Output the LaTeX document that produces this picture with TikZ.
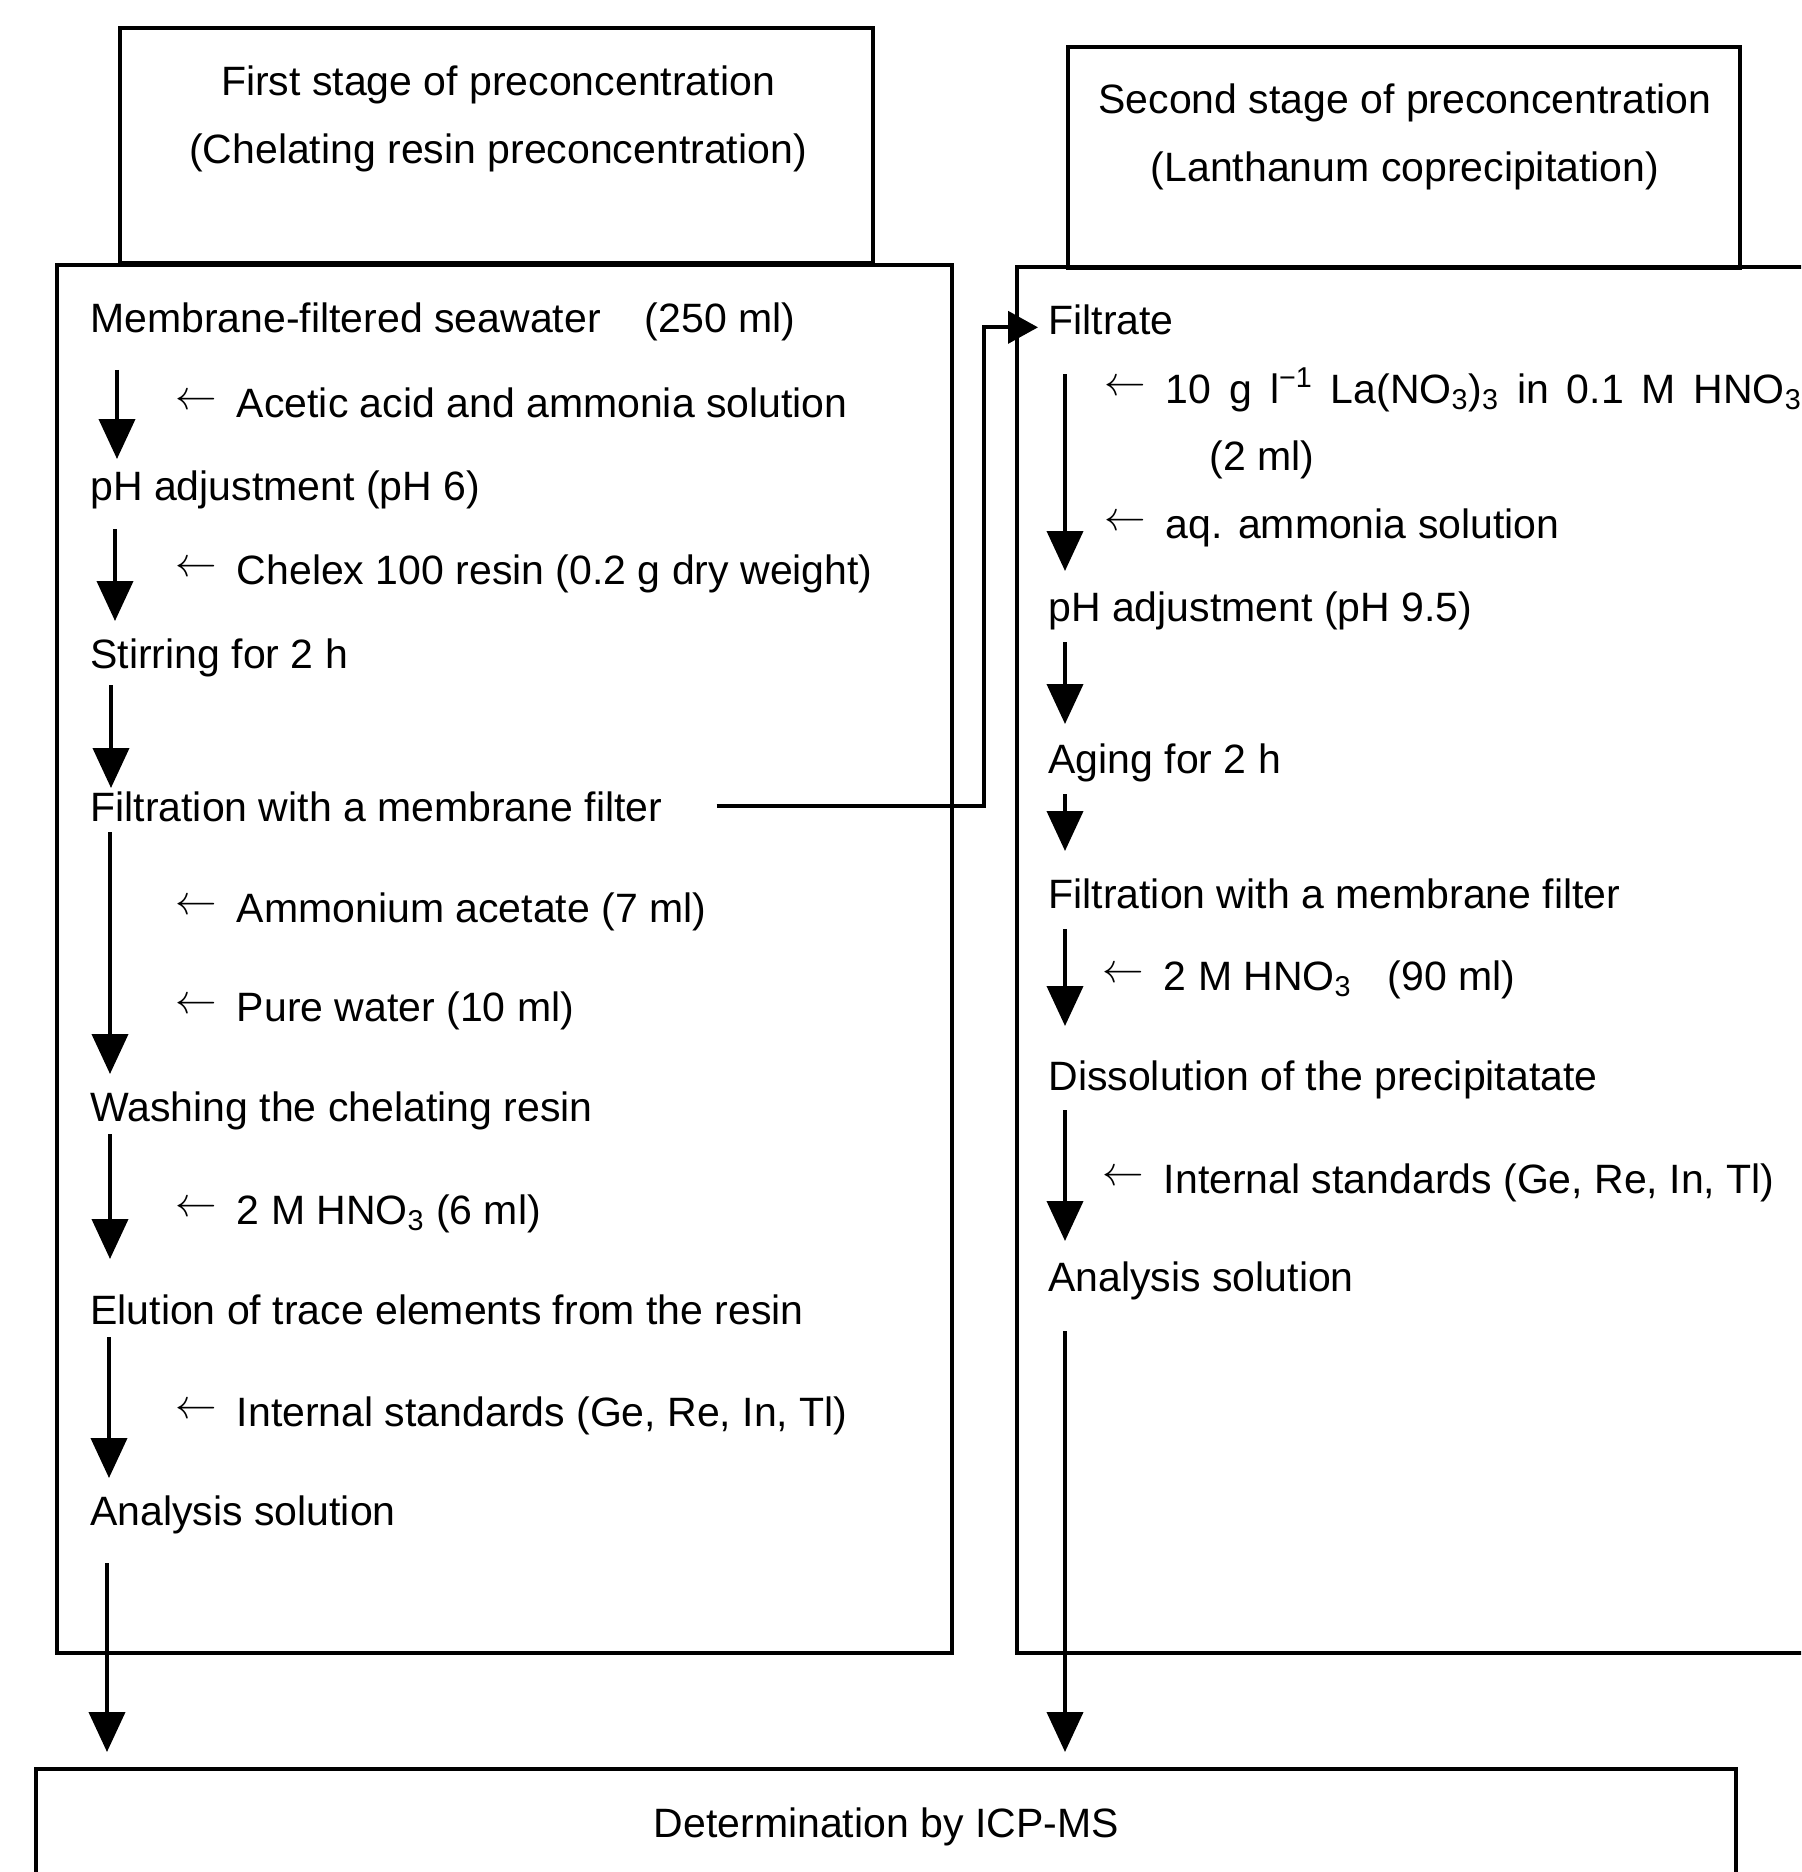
\documentclass[tikz,border=0pt]{standalone}
\usepackage{fontspec}
\setmainfont{Liberation Sans}
\usetikzlibrary{arrows.meta,calc}
\newcommand{\fs}{\fontsize{20.5pt}{34pt}\selectfont}
\newcommand{\sarr}{\raisebox{3.6pt}{\fontsize{19.5pt}{19.5pt}\selectfont$\leftarrow$}\hspace{10pt}}
\begin{document}
\begin{tikzpicture}[x=0.5pt,y=-0.5pt,
  txt/.style={anchor=base west, inner sep=0pt, font=\fs},
  hdr/.style={align=center, inner sep=0pt, font=\fs},
  box/.style={line width=2.2pt},
  flow/.style={line width=2pt, -{Triangle[width=18pt,length=20pt]}},
  conn/.style={line width=2pt, -{Triangle[width=16pt,length=15pt]}}]
\useasboundingbox (0,0) rectangle (1801,1872);
\clip (0,0) rectangle (1801,1872);
\fill[white] (0,0) rectangle (1801,1872);

% header boxes
\node[box, draw, minimum width=376.5pt, minimum height=117.5pt, inner sep=0pt] (hb1) at (496.5,145.5) {};
\node[box, draw, minimum width=336pt, minimum height=110.5pt, inner sep=0pt] (hb2) at (1404,157.5) {};
\node[hdr] (h1) at (498,119) {First stage of preconcentration\\(Chelating resin preconcentration)};
\node[hdr] (h2) at (1405,137) {Second stage of preconcentration\\(Lanthanum coprecipitation)};

% main boxes
\draw[box] (57,265) rectangle (952,1653);
\draw[box] (1840,267) -- (1017,267) -- (1017,1653) -- (1840,1653);

% bottom box
\node[box, draw, minimum width=850pt, minimum height=58pt, anchor=north west, font=\fs] (icp) at (34,1767) {Determination by ICP-MS};

% left column
\node[txt] (L1) at (90,333) {Membrane-filtered seawater\hspace{22pt}(250 ml)};
\node[txt] (L2) at (175,417) {\sarr Acetic acid and ammonia solution};
\node[txt] (L3) at (90,500) {pH adjustment (pH 6)};
\node[txt] (L4) at (175,584) {\sarr Chelex 100 resin (0.2 g dry weight)};
\node[txt] (L5) at (90,668) {Stirring for 2 h};
\node[txt] (L6) at (90,821) {Filtration with a membrane filter};
\node[txt] (L7) at (175,922) {\sarr Ammonium acetate (7 ml)};
\node[txt] (L8) at (175,1021) {\sarr Pure water (10 ml)};
\node[txt] (L9) at (90,1121) {Washing the chelating resin};
\node[txt] (L10) at (175,1224) {\sarr 2 M HNO\textsubscript{3} (6 ml)};
\node[txt] (L11) at (90,1324) {Elution of trace elements from the resin};
\node[txt] (L12) at (175,1426) {\sarr Internal standards (Ge, Re, In, Tl)};
\node[txt] (L13) at (90,1525) {Analysis solution};

\draw[flow] ($(L1.base west)+(27,37)$) -- ($(L3.base west)+(27,-41)$);
\draw[flow] ($(L3.base west)+(25,29)$) -- ($(L5.base west)+(25,-47)$);
\draw[flow] ($(L5.base west)+(21,17)$) -- ($(L6.base west)+(21,-33)$);
\draw[flow] ($(L6.base west)+(20,11)$) -- ($(L9.base west)+(20,-47)$);
\draw[flow] ($(L9.base west)+(20,13)$) -- ($(L11.base west)+(20,-65)$);
\draw[flow] ($(L11.base west)+(19,13)$) -- ($(L13.base west)+(19,-47)$);
\draw[flow] ($(L13.base west)+(17,38)$) -- ($(icp.north west)+(73,-15)$);

% right column
\node[txt] (R1) at (1048,335) {Filtrate};
\node[txt] (R2) at (1104,403) {\sarr\makebox[318pt][s]{10 g l\textsuperscript{−1} La(NO\textsubscript{3})\textsubscript{3} in 0.1 M HNO\textsubscript{3}}};
\node[txt] (R3) at (1209,470) {(2 ml)};
\node[txt] (R4) at (1104,538) {\sarr aq. ammonia solution};
\node[txt] (R5) at (1048,621) {pH adjustment (pH 9.5)};
\node[txt] (R6) at (1048,773) {Aging for 2 h};
\node[txt] (R7) at (1048,908) {Filtration with a membrane filter};
\node[txt] (R8) at (1102,990) {\sarr 2 M HNO\textsubscript{3}\hspace{18pt}(90 ml)};
\node[txt] (R9) at (1048,1090) {Dissolution of the precipitatate};
\node[txt] (R10) at (1102,1193) {\sarr Internal standards (Ge, Re, In, Tl)};
\node[txt] (R11) at (1048,1291) {Analysis solution};

\draw[flow] ($(R1.base west)+(17,39)$) -- ($(R5.base west)+(17,-50)$);
\draw[flow] ($(R5.base west)+(17,21)$) -- ($(R6.base west)+(17,-49)$);
\draw[flow] ($(R6.base west)+(17,21)$) -- ($(R7.base west)+(17,-57)$);
\draw[flow] ($(R7.base west)+(17,21)$) -- ($(R9.base west)+(17,-64)$);
\draw[flow] ($(R9.base west)+(17,20)$) -- ($(R11.base west)+(17,-50)$);
\draw[flow] ($(R11.base west)+(17,40)$) -- ($(icp.north west)+(1031,-15)$);

% filtrate transfer
\draw[conn] ($(L6.east)+(54,0)$) -| ($(R1.west)+(-64,7)$) -- ($(R1.west)+(-10,7)$);
\end{tikzpicture}
\end{document}
